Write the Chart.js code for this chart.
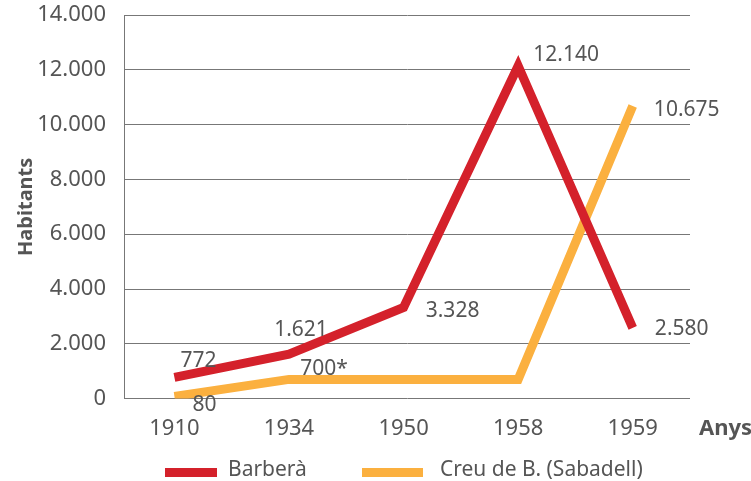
<!DOCTYPE html>
<html><head><meta charset="utf-8">
<script src="https://cdn.jsdelivr.net/npm/chart.js@4.4.1/dist/chart.umd.min.js"></script>
<style>html,body{margin:0;padding:0;background:#fff}#w{width:751px;height:481px}</style>
</head><body><div id="w"><canvas id="c"></canvas></div>
<script>
const years = ['1910','1934','1950','1958','1959'];
const barbera = [772, 1621, 3328, 12140, 2580];
const creu = [80, 700, 700, 700, 10675];
const barberaLabels = ['772','1.621','3.328','12.140','2.580'];
const creuLabels = ['80','700*','','','10.675'];
const yTicks = [0,2000,4000,6000,8000,10000,12000,14000];
const seriesNames = ['Barberà', 'Creu de B. (Sabadell)'];
const seriesColors = ['#d4212b', '#fbb03f'];
// label offsets (styling)
const offB = [[24,-16],[12,-24],[49,4],[48,-11],[49,1]];
const offC = [[30,9],[35,-10],[0,0],[0,0],[54,4]];

const FONT = "'Noto Sans', sans-serif";
const TXT = '#555';
const fmt = v => String(v).replace(/\B(?=(\d{3})+(?!\d))/g, '.');

const labelPlugin = {
  id: 'lbl',
  afterDatasetsDraw(chart) {
    const ctx = chart.ctx;
    ctx.save();
    ctx.font = "21px " + FONT;
    ctx.fillStyle = TXT;
    ctx.textAlign = 'center';
    ctx.textBaseline = 'middle';
    const sets = [[barberaLabels, offB], [creuLabels, offC]];
    sets.forEach(([labs, off], di) => {
      const meta = chart.getDatasetMeta(di);
      meta.data.forEach((p, i) => {
        if (!labs[i]) return;
        ctx.fillText(labs[i], p.x + off[i][0], p.y + off[i][1]);
      });
    });
    // axis title "Anys"
    ctx.font = "bold 22px " + FONT;
    ctx.textAlign = 'left';
    const ys = chart.scales.y;
    ctx.fillText('Anys', 699, ys.bottom + 30);
    // legend
    ctx.font = "21px " + FONT;
    const items = [[165, 52, 228], [362, 61, 440]];
    items.forEach(([bx, bw, tx], i) => {
      ctx.fillStyle = seriesColors[i];
      ctx.fillRect(bx, 468, bw, 9);
      ctx.fillStyle = TXT;
      ctx.fillText(seriesNames[i], tx, 470);
    });
    ctx.restore();
  }
};

new Chart(document.getElementById('c'), {
  type: 'line',
  data: {
    datasets: [
      { label: seriesNames[0], data: barbera.map((v,i)=>({x:i,y:v})), borderColor: seriesColors[0], borderWidth: 9, pointRadius: 0, tension: 0, borderJoinStyle: 'miter', borderCapStyle: 'butt' },
      { label: seriesNames[1], data: creu.map((v,i)=>({x:i,y:v})), borderColor: seriesColors[1], borderWidth: 9, pointRadius: 0, tension: 0, borderJoinStyle: 'miter', borderCapStyle: 'butt' }
    ]
  },
  options: {
    responsive: true, maintainAspectRatio: false, animation: false,
    layout: { padding: { left: 0, right: 61, top: 15, bottom: 22 } },
    plugins: { tooltip: { enabled: false }, legend: { display: false } },
    scales: {
      x: {
        type: 'linear', min: -0.44, max: 4.5,
        afterBuildTicks(s) { s.ticks = years.map((_, i) => ({ value: i })); },
        ticks: { callback: v => years[v], font: { family: FONT, size: 22 }, color: TXT, padding: 17, autoSkip: false, maxRotation: 0 },
        grid: { display: false, drawTicks: false },
        border: { display: false }
      },
      y: {
        min: 0, max: 14000,
        afterBuildTicks(s) { s.ticks = yTicks.map(v => ({ value: v })); },
        afterFit(s) { s.width = 124; s.paddingTop = 0; s.paddingBottom = 0; },
        ticks: { callback: v => fmt(v), font: { family: FONT, size: 22 }, color: TXT, padding: 18 },
        grid: { color: '#777', lineWidth: 1, drawTicks: false },
        border: { display: true, color: '#777', width: 1 },
        title: { display: true, text: 'Habitants', font: { family: FONT, size: 20, weight: 'bold' }, color: TXT, padding: { top: 14, bottom: 0 } }
      }
    }
  },
  plugins: [labelPlugin]
});
</script>
</body></html>
